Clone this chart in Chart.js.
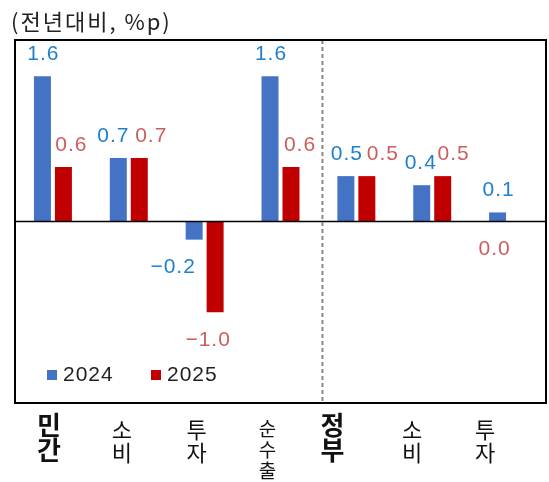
<!DOCTYPE html>
<html>
<head>
<meta charset="UTF-8">
<title>민간·정부 성장기여도</title>
<style>
  html, body { margin: 0; padding: 0; background: #fff; }
  #wrap { width: 549px; height: 482px; }
</style>
<script src="https://cdn.jsdelivr.net/npm/chart.js"></script>
</head>
<body>
<div id="wrap"><canvas id="chart" width="549" height="482"></canvas></div>
<script>
// data
const categories = [['민', '간'], ['소', '비'], ['투', '자'], ['순', '수', '출'], ['정', '부'], ['소', '비'], ['투', '자']];
const isHeader = [true, false, false, false, true, false, false];
const series2024 = [1.6, 0.7, -0.2, 1.6, 0.5, 0.4, 0.1];
const series2025 = [0.6, 0.7, -1.0, 0.6, 0.5, 0.5, 0.0];
const seriesNames = ['2024', '2025'];
const yMin = -2, yMax = 2;
const unitTitle = '(전년대비, %p)';

// styles
const barColors = ['#4472C4', '#C00000'];
const labelColors = ['#1F80CE', '#CD5E5E'];
const labelNudge = [
  [0, -6, -22, 0, 0, -2, 0],
  [7, 11, -8, 8, 15, 10, -25]
];
const catLabelNudge = [-4, -7, -8, -13, -24, -20, -23];
const numFont = '"Liberation Sans", Arial, sans-serif';
const korFont = '"Noto Sans CJK KR", sans-serif';

function fmt(v) {
  return v.toFixed(1).replace('-', '\u2212');
}

const decor = {
  id: 'decor',
  afterDatasetsDraw(chart) {
    const ctx = chart.ctx;
    const area = chart.chartArea;
    const xs = chart.scales.x;
    const ys = chart.scales.y;
    ctx.save();

    // zero line
    const y0 = ys.getPixelForValue(0);
    ctx.strokeStyle = '#000';
    ctx.lineWidth = 1.5;
    ctx.beginPath();
    ctx.moveTo(area.left, y0);
    ctx.lineTo(area.right, y0);
    ctx.stroke();

    // dashed separator between 민간 and 정부
    const xd = (xs.getPixelForValue(3) + xs.getPixelForValue(4)) / 2 + 4;
    ctx.strokeStyle = '#8a8a8a';
    ctx.lineWidth = 2;
    ctx.setLineDash([4, 3]);
    ctx.beginPath();
    ctx.moveTo(xd, area.top);
    ctx.lineTo(xd, area.bottom);
    ctx.stroke();
    ctx.setLineDash([]);

    // plot border
    ctx.strokeStyle = '#000';
    ctx.lineWidth = 2;
    ctx.strokeRect(area.left, area.top, area.right - area.left, area.bottom - area.top);

    // value labels
    ctx.font = '21px ' + numFont;
    ctx.letterSpacing = '1px';
    ctx.textAlign = 'center';
    ctx.textBaseline = 'middle';
    chart.data.datasets.forEach((ds, di) => {
      const meta = chart.getDatasetMeta(di);
      meta.data.forEach((bar, i) => {
        const v = ds.data[i];
        const ty = v > 0 ? bar.y - 22 : bar.y + 28;
        ctx.fillStyle = labelColors[di];
        ctx.fillText(fmt(v), bar.x + labelNudge[di][i] + 1, ty);
      });
    });

    // legend inside plot
    ctx.textAlign = 'left';
    const legY = 375;
    const legX = [47, 151];
    seriesNames.forEach((name, i) => {
      ctx.fillStyle = barColors[i];
      ctx.fillRect(legX[i], legY - 5, 10, 10);
      ctx.fillStyle = '#222';
      ctx.fillText(name, legX[i] + 16, legY);
    });
    ctx.letterSpacing = '0px';

    // category labels, stacked vertically
    ctx.textAlign = 'center';
    categories.forEach((chars, i) => {
      const cx = xs.getPixelForValue(i) + catLabelNudge[i];
      let top, pitch;
      if (isHeader[i]) {
        ctx.font = 'bold 26px ' + korFont;
        top = 425; pitch = 25;
      } else if (chars.length > 2) {
        ctx.font = '19px ' + korFont;
        top = 429; pitch = 21;
      } else {
        ctx.font = '22px ' + korFont;
        top = 430; pitch = 23;
      }
      ctx.fillStyle = '#111';
      chars.forEach((ch, k) => ctx.fillText(ch, cx, top + k * pitch));
    });

    // unit title
    ctx.textAlign = 'left';
    ctx.font = '22px ' + korFont;
    ctx.letterSpacing = '2px';
    ctx.fillStyle = '#222';
    ctx.fillText(unitTitle, 11, 22);

    ctx.restore();
  }
};

new Chart(document.getElementById('chart').getContext('2d'), {
  type: 'bar',
  data: {
    labels: categories.map(c => c.join('')),
    datasets: [
      { label: seriesNames[0], data: series2024, backgroundColor: barColors[0] },
      { label: seriesNames[1], data: series2025, backgroundColor: barColors[1] }
    ]
  },
  options: {
    responsive: false,
    animation: false,
    devicePixelRatio: 1,
    barPercentage: 0.81,
    categoryPercentage: 0.553,
    layout: { padding: { left: 15, right: 3, top: 40, bottom: 79 } },
    scales: {
      x: { display: false },
      y: { display: false, min: yMin, max: yMax }
    },
    plugins: {
      legend: { display: false },
      tooltip: { enabled: false }
    }
  },
  plugins: [decor]
});
</script>
</body>
</html>
